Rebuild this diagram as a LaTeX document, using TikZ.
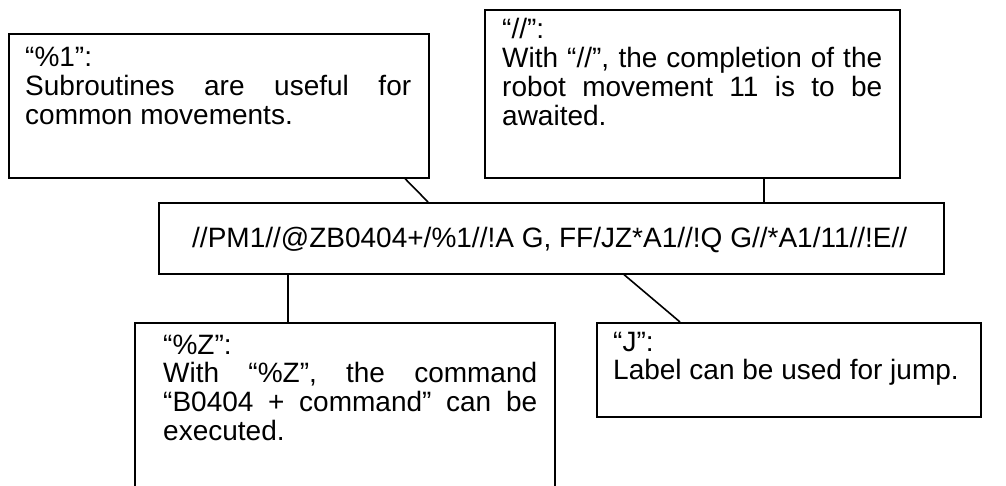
\documentclass[tikz,border=0pt]{standalone}
\usepackage{fontspec}
\setmainfont{Liberation Sans}
\tolerance=10000
\hyphenpenalty=10000
\newcommand\notefont{\fontsize{28}{28.7}\selectfont}
\tikzset{
  frame/.style={draw, line width=1.6pt, rectangle, inner sep=0pt, anchor=north west},
  note/.style={anchor=base west, inner sep=0pt, align=justify, font=\notefont},
  link/.style={line width=1.6pt},
}
\begin{document}
\begin{tikzpicture}[x=1pt, y=-1pt]
  \clip (0,0) rectangle (1006,486);
  \fill[white] (0,0) rectangle (1006,486);

  % frames
  \node[frame, minimum width=420pt, minimum height=144pt] (b1) at (8,33) {};
  \node[frame, minimum width=415pt, minimum height=168pt] (b2) at (484,9) {};
  \node[frame, minimum width=785pt, minimum height=71pt] (main) at (158,202) {};
  \node[frame, minimum width=420pt, minimum height=200pt] (b3) at (134,322) {};
  \node[frame, minimum width=384pt, minimum height=94pt] (b4) at (596,322) {};

  % texts
  \node[note, text width=386pt] (t1) at (25,67)
    {“\%1”:\\Subroutines are useful for\linebreak common movements.};
  \node[note, text width=380pt] (t2) at (502,39)
    {“//”:\\With “//”, the completion of the\linebreak robot movement 11 is to be\linebreak awaited.};
  \node[note, text width=374pt] (t3) at (163,354)
    {“\%Z”:\\With “\%Z”, the command\linebreak “B0404 + command” can be\linebreak executed.};
  \node[note, text width=360pt] (t4) at (613,351)
    {“J”:\\Label can be used for jump.};
  \node[anchor=base west, inner sep=0pt, font=\notefont] (code) at (192,248)
    {//PM1//@ZB0404+/\%1//!A G, FF/JZ*A1//!Q G//*A1/11//!E//};

  % connectors
  \draw[link] ([xshift=397pt]b1.south west) -- ([xshift=270pt]main.north west);
  \draw[link] ([xshift=280pt]b2.south west) -- ([xshift=606pt]main.north west);
  \draw[link] ([xshift=130pt]main.south west) -- ([xshift=154pt]b3.north west);
  \draw[link] ([xshift=466pt]main.south west) -- ([xshift=84pt]b4.north west);
\end{tikzpicture}
\end{document}
